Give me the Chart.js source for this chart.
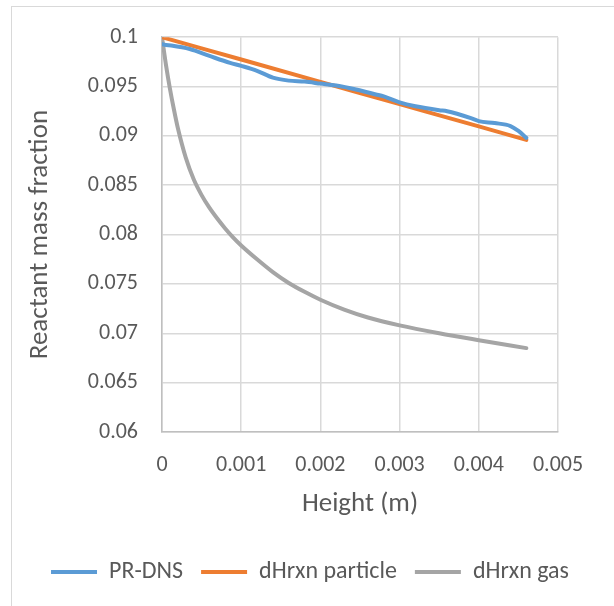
<!DOCTYPE html>
<html lang="en">
<head>
<meta charset="UTF-8">
<title>Reactant mass fraction</title>
<style>
  html, body { margin: 0; padding: 0; background: #fff; }
  #wrap { position: relative; width: 614px; height: 606px; overflow: hidden; }
  #frame { position: absolute; left: 11px; top: 6px; width: 640px; height: 640px; border: 1px solid #d9d9d9; box-sizing: border-box; pointer-events: none; }
  canvas { position: absolute; left: 0; top: 0; }
</style>
</head>
<body>
<div id="wrap">
  <canvas id="myCanvas" width="614" height="606"></canvas>
  <div id="frame"></div>
</div>

<script src="https://cdn.jsdelivr.net/npm/chart.js@4.4.0/dist/chart.umd.min.js"></script>
<script>

// PR-DNS
var prHeight = [0, 0.00035, 0.0006, 0.00086, 0.001, 0.0012, 0.0014, 0.0016, 0.0018, 0.002, 0.0022, 0.00245,
                0.0027, 0.0028, 0.003, 0.0032, 0.0035, 0.0036, 0.0039, 0.004, 0.0042, 0.0044, 0.0045, 0.0046];
var prFraction = [0.0993, 0.0988, 0.0981, 0.0974, 0.0971, 0.0966, 0.0959, 0.0956, 0.0955, 0.0953, 0.0951, 0.0947,
                  0.0942, 0.0940, 0.0934, 0.0930, 0.0926, 0.0925, 0.0918, 0.0915, 0.0913, 0.0910, 0.0905, 0.0898];

// dHrxn particle
var particleHeight = [0, 0.001, 0.002, 0.003, 0.004, 0.0046];
var particleFraction = [0.1, 0.09774, 0.09548, 0.09322, 0.09096, 0.0896];

// dHrxn gas
var gasHeight = [0, 0.00005, 0.0001, 0.00015, 0.0002, 0.0003, 0.0004, 0.0005, 0.0006, 0.0007, 0.0008, 0.0009,
                 0.001, 0.0012, 0.0014, 0.0016, 0.0018, 0.002, 0.0023, 0.0026, 0.003, 0.0035, 0.004, 0.0046];
var gasFraction = [0.1, 0.0972, 0.0948, 0.0927, 0.0908, 0.0878, 0.0856, 0.0840, 0.0827, 0.0816, 0.0806, 0.0797,
                   0.0789, 0.0775, 0.0762, 0.0751, 0.0742, 0.0734, 0.0724, 0.0716, 0.0708, 0.0700, 0.0693, 0.0685];

var xTicks = [0, 0.001, 0.002, 0.003, 0.004, 0.005];
var yTicks = [0.06, 0.065, 0.07, 0.075, 0.08, 0.085, 0.09, 0.095, 0.1];

function points(xs, ys) {
    return xs.map((x, i) => ({x: x, y: ys[i]}));
}

var fontName = 'Carlito, Lato, sans-serif';
var textColor = '#595959';

var context = document.getElementById('myCanvas').getContext('2d');

new Chart(context, {
    type: 'line',
    data: {
        datasets: [
            {
                label: 'PR-DNS',
                data: points(prHeight, prFraction),
                borderColor: '#5B9BD5',
                backgroundColor: '#5B9BD5',
                borderWidth: 4
            },
            {
                label: 'dHrxn particle',
                data: points(particleHeight, particleFraction),
                borderColor: '#ED7D31',
                backgroundColor: '#ED7D31',
                borderWidth: 4
            },
            {
                label: 'dHrxn gas',
                data: points(gasHeight, gasFraction),
                borderColor: '#A5A5A5',
                backgroundColor: '#A5A5A5',
                borderWidth: 4
            }
        ]
    },
    options: {
        responsive: false,
        animation: false,
        layout: {padding: {left: 12, right: 6, top: 26, bottom: 12}},
        elements: {
            point: {radius: 0, hoverRadius: 0},
            line: {cubicInterpolationMode: 'monotone', borderCapStyle: 'round'}
        },
        scales: {
            x: {
                type: 'linear',
                min: 0,
                max: 0.005,
                afterBuildTicks: axis => { axis.ticks = xTicks.map(v => ({value: v})); },
                afterFit: axis => { axis.height = 110; },
                grid: {color: '#d9d9d9', lineWidth: 1.5, drawTicks: false},
                border: {color: '#bfbfbf', width: 1.5},
                ticks: {
                    padding: 20,
                    color: textColor,
                    font: {family: fontName, size: 22},
                    maxRotation: 0,
                    callback: v => String(+v.toFixed(4))
                },
                title: {
                    display: true,
                    text: 'Height (m)',
                    color: textColor,
                    font: {family: fontName, size: 27},
                    padding: {top: 0, bottom: 22}
                }
            },
            y: {
                min: 0.06,
                max: 0.1,
                afterBuildTicks: axis => { axis.ticks = yTicks.map(v => ({value: v})); },
                afterFit: axis => { axis.width = 150; },
                grid: {color: '#d9d9d9', lineWidth: 1.5, drawTicks: false},
                border: {color: '#bfbfbf', width: 1.5},
                ticks: {
                    padding: 24,
                    color: textColor,
                    font: {family: fontName, size: 22},
                    callback: v => String(+v.toFixed(4))
                },
                title: {
                    display: true,
                    text: 'Reactant mass fraction',
                    color: textColor,
                    font: {family: fontName, size: 27},
                    padding: {top: 12, bottom: 0}
                }
            },
            // empty right-hand axis, only keeps room to the right of the plot
            spacer: {
                position: 'right',
                min: 0,
                max: 1,
                afterFit: axis => { axis.width = 50; },
                grid: {display: false, drawTicks: false},
                border: {display: false},
                ticks: {display: false}
            }
        },
        plugins: {
            legend: {
                position: 'bottom',
                labels: {
                    usePointStyle: true,
                    pointStyle: 'line',
                    pointStyleWidth: 46,
                    color: textColor,
                    font: {family: fontName, size: 24},
                    padding: 18
                }
            },
            tooltip: {enabled: false}
        }
    }
});
</script>
</body>
</html>
